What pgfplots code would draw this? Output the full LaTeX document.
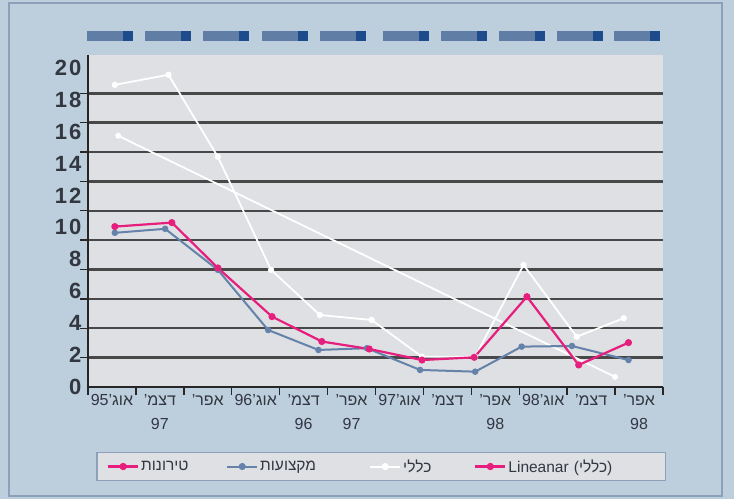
\documentclass[border=0pt]{standalone}
\usepackage{pgfplots}
\pgfplotsset{compat=1.18}
\usepackage{fontspec}
\setmainfont{Liberation Sans}
\newfontfamily\heb[Script=Hebrew]{Liberation Sans}
\definecolor{bgout}{RGB}{189,206,220}
\definecolor{plotbg}{RGB}{222,224,227}
\definecolor{gridc}{RGB}{72,72,72}
\definecolor{pinkc}{RGB}{230,30,125}
\definecolor{bluec}{RGB}{100,130,170}
\definecolor{blockl}{RGB}{95,125,165}
\definecolor{blockd}{RGB}{30,75,140}
\definecolor{textc}{RGB}{50,55,65}
\definecolor{legbord}{RGB}{140,160,185}
\begin{document}
\begin{tikzpicture}[x=1pt,y=1pt]
\fill[bgout] (0pt,0pt) rectangle (734pt,499pt);
\draw[legbord, line width=1.5pt] (9pt,3pt) rectangle (722pt,496pt);
\foreach \xa in {87,145,203,262,320,383,441,499,557,614} {
  \fill[blockl] (\xa pt,458pt) rectangle ++(46pt,10pt);
  \fill[blockd] (\xa pt+36pt,458pt) rectangle ++(10pt,10pt);
}
\begin{axis}[
  at={(88pt,112pt)}, anchor=south west,
  scale only axis, width=575pt, height=332pt,
  xmin=0, xmax=12, ymin=0, ymax=20.8,
  axis lines*=left,
  axis line style={black!85, line width=1.6pt},
  axis background/.style={fill=plotbg},
  tick align=outside, major tick length=8pt,
  tick style={black!85, line width=1.4pt},
  xtick={0,...,12}, xticklabels={},
  ytick={1.84,3.68,5.52,7.36,9.2,11.04,12.88,14.72,16.56,18.4}, yticklabels={},
  ymajorgrids, major grid style={gridc, line width=2.4pt},
  /pgf/number format/assume math mode=true,
  extra x ticks={0.5,1.5,...,11.5},
  extra x tick labels={{95'{\heb אוג}},{'{\heb דצמ}\\97},{'{\heb אפר}},{96'{\heb אוג}},{'{\heb דצמ}\\96},{'{\heb אפר}\\97},{97'{\heb אוג}},{'{\heb דצמ}},{'{\heb אפר}\\98},{98'{\heb אוג}},{'{\heb דצמ}},{'{\heb אפר}\\98}},
  extra x tick style={major tick length=0pt, grid=none,
    xticklabel style={font=\fontsize{16}{24}\selectfont, text=textc, align=center, anchor=north, yshift=-4pt}},
  extra y ticks={0,2,...,20},
  extra y tick labels={0,2,4,6,8,1\kern2pt0,1\kern2pt2,1\kern2pt4,1\kern2pt6,1\kern2pt8,2\kern2pt0},
  extra y tick style={major tick length=0pt, grid=none,
    yticklabel style={font=\fontsize{22}{22}\selectfont\bfseries, text=textc, anchor=east, xshift=-3pt}},
  legend style={at={(0.51,-0.2395)}, anchor=center, fill=plotbg, draw=legbord, line width=1.2pt,
    font=\fontsize{15.5}{15.5}\selectfont, text=textc, inner ysep=5pt, inner xsep=10pt},
  legend columns=4,
  legend image code/.code={\draw[mark repeat=2,mark phase=2] plot coordinates {(0pt,0pt)(15pt,0pt)(30pt,0pt)};},
]
% linear trend of general series
\addplot[white, line width=1.8pt, mark=*, mark size=2pt, forget plot] coordinates {(0.63,15.74) (11.0,0.63)};
% general
\addplot[white, line width=1.8pt, mark=*, mark size=2.2pt, forget plot] table {
x y
0.56 18.93
1.68 19.56
2.71 14.42
3.82 7.34
4.84 4.51
5.92 4.20
6.97 1.90
8.08 1.90
9.09 7.65
10.2 3.15
11.18 4.31
};
% professions
\addplot[bluec, line width=2pt, mark=*, mark size=2.2pt, forget plot] table {
x y
0.56 9.66
1.61 9.91
2.71 7.34
3.76 3.57
4.81 2.32
5.82 2.43
6.93 1.07
8.08 0.96
9.05 2.53
10.1 2.57
11.28 1.69
};
% basic training
\addplot[pinkc, line width=2.2pt, mark=*, mark size=2.4pt, forget plot] table {
x y
0.56 10.05
1.75 10.30
2.71 7.46
3.84 4.41
4.88 2.85
5.87 2.38
6.97 1.69
8.06 1.86
9.16 5.66
10.24 1.38
11.28 2.78
};
\addlegendimage{pinkc, line width=2.2pt, mark=*, mark size=2.5pt}
\addlegendentry[text width=83pt]{{\heb טירונות}}
\addlegendimage{bluec, line width=2pt, mark=*, mark size=2.5pt}
\addlegendentry[text width=107pt]{{\heb מקצועות}}
\addlegendimage{white, line width=2pt, mark=*, mark size=2.5pt}
\addlegendentry[text width=69pt]{{\heb כללי}}
\addlegendimage{pinkc, line width=2.2pt, mark=*, mark size=2.5pt}
\addlegendentry[text width=145pt]{Lineanar ({\heb כללי})}
\end{axis}
\pgfresetboundingbox
\path (0pt,0pt) rectangle (734pt,499pt);
\end{tikzpicture}
\end{document}
